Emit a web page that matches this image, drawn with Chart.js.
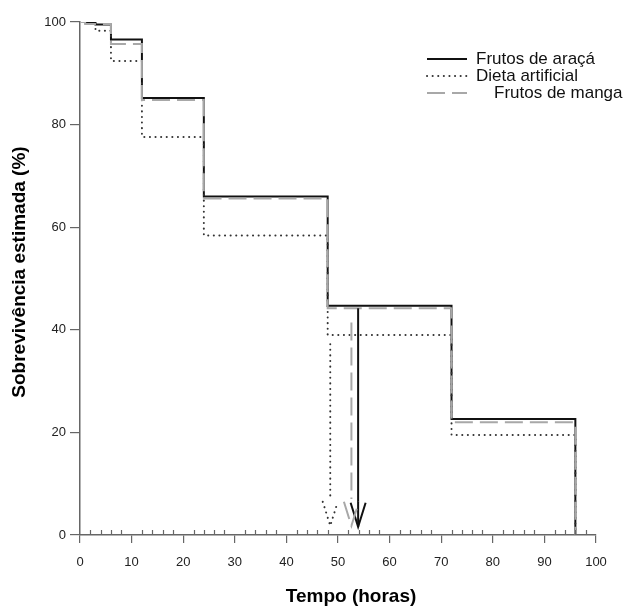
<!DOCTYPE html>
<html>
<head>
<meta charset="utf-8">
<script src="https://cdn.jsdelivr.net/npm/chart.js@4.4.1/dist/chart.umd.min.js"></script>
<style>
  html,body{margin:0;padding:0;background:#fff;}
  #wrap{width:624px;height:607px;}
</style>
</head>
<body>
<div id="wrap"><canvas id="chart" width="624" height="607"></canvas></div>
<script>
// curvas de sobrevivência (Kaplan-Meier), tempo em horas
const labels = ["Frutos de araçá", "Dieta artificial", "Frutos de manga"];
const tAraca  = [0, 3, 6, 12, 24, 48, 72, 96];
const sAraca  = [100, 99.5, 96.6, 85.2, 66.0, 44.7, 22.6, 0];
const tDieta  = [0, 1, 3, 6, 12, 24, 48, 72, 96];
const sDieta  = [100, 99.6, 98.3, 92.4, 77.6, 58.4, 39.0, 19.5, 0];
const tManga  = [0, 1, 6, 12, 24, 48, 72, 96];
const sManga  = [100, 99.6, 95.7, 84.8, 65.6, 44.2, 22.0, 0];
// setas da mediana
const medianHours = [53.9, 48.5, 52.6];
const arrowFrom   = [44.2, 37.2, 41.4];
const arrowShaftTo = [1.6, 7.5, 7.0];
const arrowTip    = [1.6, 1.8, 1.8];
const xTicks = [0, 10, 20, 30, 40, 50, 60, 70, 80, 90, 100];
const yTicks = [0, 20, 40, 60, 80, 100];
const minorStep = 2;

const FONT = '"Liberation Sans", Arial, sans-serif';

function pts(t, s){ return t.map((v,i)=>({x:v, y:s[i]})); }

const extras = {
  id: "extras",
  afterDatasetsDraw(chart){
    const {ctx, scales:{x, y}} = chart;
    chart.data.datasets.forEach((ds, i) => {
      const px = x.getPixelForValue(medianHours[i]);
      const top = y.getPixelForValue(arrowFrom[i]);
      const shaftEnd = y.getPixelForValue(arrowShaftTo[i]);
      const tip = y.getPixelForValue(arrowTip[i]);
      ctx.save();
      ctx.strokeStyle = ds.borderColor;
      ctx.lineWidth = ds.borderWidth;
      ctx.setLineDash(ds.borderDash || []);
      ctx.lineCap = ds.borderCapStyle || "butt";
      ctx.beginPath(); ctx.moveTo(px, top); ctx.lineTo(px, shaftEnd); ctx.stroke();
      ctx.beginPath();
      ctx.moveTo(px - 7.5, tip - 24); ctx.lineTo(px, tip); ctx.lineTo(px + 7.5, tip - 24);
      ctx.stroke();
      ctx.restore();
    });
  },
  afterDraw(chart){
    const {ctx, chartArea:a, scales:{x}} = chart;
    ctx.save();
    // minor ticks (para dentro)
    ctx.strokeStyle = "#666"; ctx.lineWidth = 1.2;
    for(let v = minorStep; v < 100; v += minorStep){
      if(v % 10 === 0) continue;
      const px = Math.round(x.getPixelForValue(v)) + 0.5;
      ctx.beginPath(); ctx.moveTo(px, a.bottom); ctx.lineTo(px, a.bottom - 5); ctx.stroke();
    }
    // legenda
    const indent = [0, 0, 18];
    chart.data.datasets.forEach((ds, i) => {
      const ly = 59 + i * 17;
      ctx.strokeStyle = ds.borderColor;
      ctx.lineWidth = ds.borderWidth;
      ctx.setLineDash(ds.borderDash || []);
      ctx.lineCap = ds.borderCapStyle || "butt";
      ctx.beginPath(); ctx.moveTo(427, ly); ctx.lineTo(467, ly); ctx.stroke();
      ctx.setLineDash([]);
      ctx.fillStyle = "#111";
      ctx.font = "17px " + FONT;
      ctx.textBaseline = "middle"; ctx.textAlign = "left";
      ctx.fillText(ds.label, 476 + indent[i], ly);
    });
    // títulos dos eixos
    ctx.fillStyle = "#000";
    ctx.font = "bold 19px " + FONT;
    ctx.textAlign = "center"; ctx.textBaseline = "middle";
    ctx.fillText("Tempo (horas)", 351, 597);
    ctx.translate(20, 272); ctx.rotate(-Math.PI/2);
    ctx.fillText("Sobrevivência estimada (%)", 0, 0);
    ctx.restore();
  }
};

new Chart(document.getElementById("chart"), {
  type: "line",
  data: {
    datasets: [
      {label: labels[0], data: pts(tAraca, sAraca), borderColor: "#111", borderWidth: 2, stepped: "before", pointRadius: 0, order: 3},
      {label: labels[1], data: pts(tDieta, sDieta), borderColor: "#333", borderWidth: 2, borderDash: [0.1, 5.5], borderCapStyle: "round", stepped: "before", pointRadius: 0, order: 2},
      {label: labels[2], data: pts(tManga, sManga), borderColor: "#a8a8a8", borderWidth: 2, borderDash: [18, 7], stepped: "before", pointRadius: 0, order: 1}
    ]
  },
  options: {
    responsive: false, animation: false, devicePixelRatio: 1,
    layout: {padding: {left: 0, top: 22, right: 28, bottom: 0}},
    plugins: {legend: {display: false}, tooltip: {enabled: false}},
    scales: {
      x: {
        type: "linear", min: 0, max: 100,
        afterBuildTicks: s => { s.ticks = xTicks.map(v => ({value: v})); },
        afterFit: s => { s.height = 72; },
        ticks: {font: {size: 13, family: FONT}, color: "#222", padding: 12, maxRotation: 0},
        grid: {drawOnChartArea: false, tickLength: 8, color: "#666", lineWidth: 1.2},
        border: {color: "#666", width: 1.5}
      },
      y: {
        min: 0, max: 100,
        afterBuildTicks: s => { s.ticks = yTicks.map(v => ({value: v})); },
        afterFit: s => { s.width = 80; },
        ticks: {font: {size: 13, family: FONT}, color: "#222", padding: 4},
        grid: {drawOnChartArea: false, tickLength: 10, color: "#666", lineWidth: 1.2},
        border: {color: "#666", width: 1.5}
      }
    }
  },
  plugins: [extras]
});
</script>
</body>
</html>
